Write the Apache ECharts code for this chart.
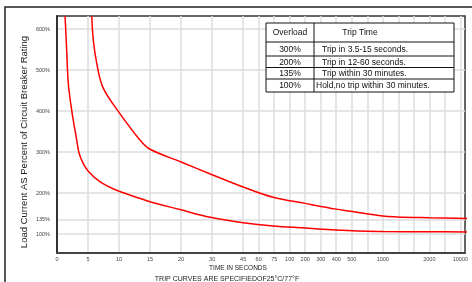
<!DOCTYPE html>
<html>
<head>
<meta charset="utf-8">
<script src="https://cdn.jsdelivr.net/npm/echarts@6/dist/echarts.min.js"></script>
<style>
html, body { margin: 0; padding: 0; background: #fff; }
#trip_1 { width: 472px; height: 282px; }
</style>
</head>
<body>
<div id="trip_1"></div>
<script>
// time axis (seconds) and its labels
var timeTicks = [0, 5, 10, 15, 20, 30, 45, 60, 75, 100, 200, 300, 400, 500, 1000, 2000, 10000];
var timeLabels = ['0', '5', '10', '15', '20', '30', '45', '60', '75', '100', '200', '300', '400', '500', '1000', '2000', '10000'];
// load current axis (%)
var pctTicks = [100, 135, 200, 300, 400, 500, 600];

// fast curve (lower / left)
var fastTime = [1.3, 1.56, 1.82, 2.37, 3.18, 3.55, 4.2, 5, 6.9, 9.6, 13.4, 15, 19.8, 29.4, 45, 74, 200, 316, 745, 1000, 2000, 12000];
var fastPct = [632, 549, 468, 402, 329, 298, 273, 254, 228, 207, 187, 179, 160, 141, 128, 120, 115, 112, 107, 106.5, 105.8, 105.5];
// slow curve (upper / right)
var slowTime = [5.6, 5.85, 6.4, 7.4, 9.85, 13.4, 15, 20, 30, 45, 74, 200, 400, 490, 1000, 1300, 2000, 12000];
var slowPct = [632, 573, 517, 458, 400, 329, 307, 276, 245, 215, 190, 175, 161, 156, 144, 142, 140, 138];

// table
var overloads = ['300%', '200%', '135%', '100%'];
var tripTimes = ['Trip in 3.5-15 seconds.', 'Trip in 12-60 seconds.', 'Trip within 30 minutes.', 'Hold,no trip within 30 minutes.'];

(function () {
    var myChart = echarts.init(document.getElementById('trip_1'));

    // the time axis is not linear: every labelled tick sits on a slot
    var tickSlots = [0, 2, 4, 6, 8, 10, 12, 13, 14, 15, 16, 17, 18, 19, 21, 24, 26];
    var blankSlots = [20, 22, 23, 25];
    var gridSlots = tickSlots.concat(blankSlots).sort(function (a, b) { return a - b; });

    function toSlot(t) {
        var n = timeTicks.length;
        for (var i = 0; i < n - 1; i++) {
            if (t <= timeTicks[i + 1]) {
                return tickSlots[i] + (t - timeTicks[i]) / (timeTicks[i + 1] - timeTicks[i]) * (tickSlots[i + 1] - tickSlots[i]);
            }
        }
        return tickSlots[n - 1] + (t - timeTicks[n - 1]) / (timeTicks[n - 1] - timeTicks[n - 2]) * (tickSlots[n - 1] - tickSlots[n - 2]);
    }
    function pairs(ts, ps) {
        var res = [];
        for (var i = 0; i < ts.length; i++) {
            res.push([toSlot(ts[i]), ps[i]]);
        }
        return res;
    }

    // table graphic
    var rowY = [23, 42, 56, 67.5, 79, 92];
    var tl = 266, tr = 454, tc = 314;
    var table = [];
    table.push({ type: 'rect', z: 100, shape: { x: tl, y: rowY[0], width: tr - tl, height: rowY[5] - rowY[0] },
        style: { fill: '#fff', stroke: '#111', lineWidth: 1 } });
    table.push({ type: 'line', z: 101, shape: { x1: tc, y1: rowY[0], x2: tc, y2: rowY[5] }, style: { stroke: '#111', lineWidth: 1 } });
    for (var r = 1; r < 5; r++) {
        table.push({ type: 'line', z: 101, shape: { x1: tl, y1: rowY[r], x2: tr, y2: rowY[r] }, style: { stroke: '#111', lineWidth: 1 } });
    }
    var tfont = '8.5px "Liberation Sans Narrow", "Liberation Sans", sans-serif';
    table.push({ type: 'text', z: 101, x: (tl + tc) / 2, y: (rowY[0] + rowY[1]) / 2 + 0.5,
        style: { text: 'Overload', font: tfont, fill: '#111', align: 'center', verticalAlign: 'middle' } });
    table.push({ type: 'text', z: 101, x: 360, y: (rowY[0] + rowY[1]) / 2 + 0.5,
        style: { text: 'Trip Time', font: tfont, fill: '#111', align: 'center', verticalAlign: 'middle' } });
    for (var k = 0; k < overloads.length; k++) {
        var my = (rowY[k + 1] + rowY[k + 2]) / 2 + 0.5;
        table.push({ type: 'text', z: 101, x: (tl + tc) / 2, y: my,
            style: { text: overloads[k], font: tfont, fill: '#111', align: 'center', verticalAlign: 'middle' } });
        table.push({ type: 'text', z: 101, x: k === 3 ? 316 : 322, y: my,
            style: { text: tripTimes[k], font: tfont, fill: '#111', align: 'left', verticalAlign: 'middle' } });
    }

    var option = {
        animation: false,
        backgroundColor: '#fff',
        grid: {
            left: 57, top: 16, right: 7, bottom: 29,
            show: true, borderColor: '#333', borderWidth: 1.5
        },
        xAxis: {
            type: 'value',
            min: 0,
            max: 26.3,
            axisLine: { lineStyle: { color: '#444', width: 2 } },
            axisTick: { show: false, customValues: gridSlots },
            axisLabel: {
                customValues: tickSlots,
                fontSize: 5.5,
                color: '#444',
                margin: 3,
                fontFamily: 'Liberation Sans',
                formatter: function (v) {
                    var i = tickSlots.indexOf(v);
                    return i < 0 ? '' : timeLabels[i];
                }
            },
            splitLine: { show: true, lineStyle: { color: '#dcdcdc', width: 1.5 } }
        },
        yAxis: {
            type: 'value',
            min: 54,
            max: 632,
            axisLine: { show: true, lineStyle: { color: '#333', width: 2 } },
            axisTick: { show: false, customValues: pctTicks },
            axisLabel: {
                customValues: pctTicks,
                fontSize: 5.5,
                color: '#444',
                margin: 7,
                fontFamily: 'Liberation Sans',
                formatter: '{value}%'
            },
            splitLine: { show: true, lineStyle: { color: '#dcdcdc', width: 1.5 } }
        },
        graphic: [
            { type: 'rect', z: 100, shape: { x: 5, y: 7, width: 480, height: 300 },
              style: { fill: 'none', stroke: '#222', lineWidth: 1.5 } },
            { type: 'text', z: 100, x: 24, y: 142, rotation: Math.PI / 2,
              style: { text: 'Load Current AS Percent of Circuit Breaker Rating', font: '9.5px "Liberation Sans", sans-serif',
                fill: '#222', align: 'center', verticalAlign: 'middle' } },
            { type: 'text', z: 100, x: 238, y: 268,
              style: { text: 'TIME IN SECONDS', font: '6.5px "Liberation Sans", sans-serif',
                fill: '#222', align: 'center', verticalAlign: 'middle' } },
            { type: 'text', z: 100, x: 227, y: 279,
              style: { text: 'TRIP CURVES ARE SPECIFIEDOF25°C/77°F', font: '7px "Liberation Sans Narrow", "Liberation Sans", sans-serif',
                fill: '#222', align: 'center', verticalAlign: 'middle' } },
            { type: 'group', z: 100, children: table }
        ],
        series: [
            {
                name: 'fast',
                type: 'line',
                data: pairs(fastTime, fastPct),
                showSymbol: false,
                smooth: 0.35,
                clip: true,
                lineStyle: { color: '#ff0000', width: 1.5 }
            },
            {
                name: 'slow',
                type: 'line',
                data: pairs(slowTime, slowPct),
                showSymbol: false,
                smooth: 0.35,
                clip: true,
                lineStyle: { color: '#ff0000', width: 1.5 }
            }
        ]
    };

    myChart.setOption(option);
    window.addEventListener('resize', function () {
        myChart.resize();
    });
})();
</script>
</body>
</html>
